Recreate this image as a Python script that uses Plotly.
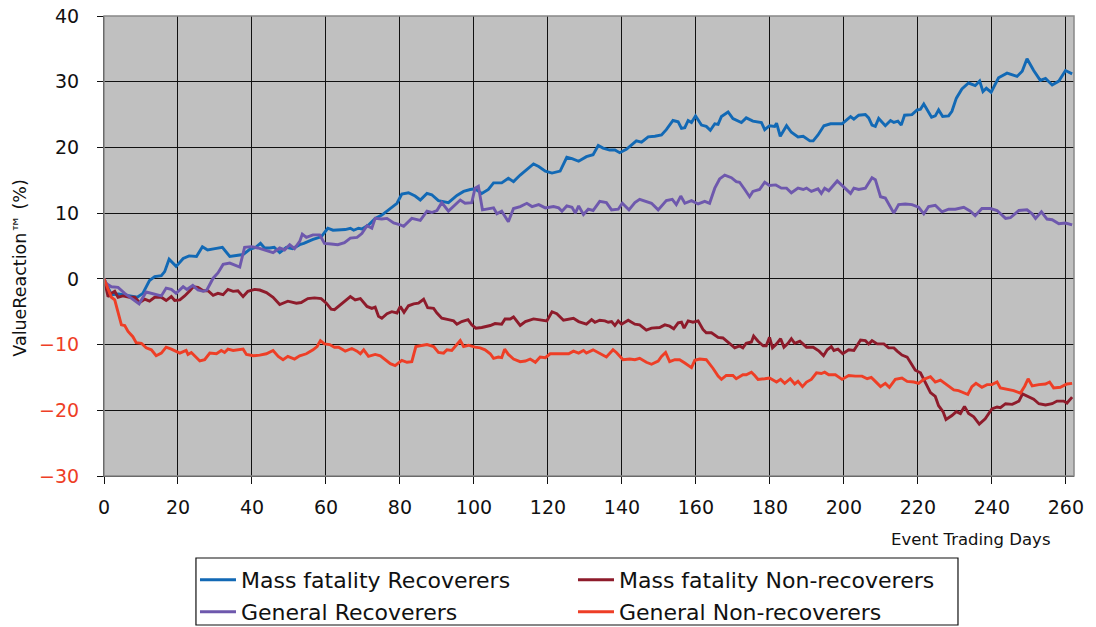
import plotly.graph_objects as go

# ---- data (event trading day, ValueReaction %) ----
mf_rec_days = [0, 2, 4, 7, 9, 10.5, 12.3, 13.7, 15.5, 16.4, 17.6, 19.5, 21.4, 23, 25, 26.6, 28, 30, 32, 34, 35.8, 37.6, 39.4, 41, 42.3, 43.4, 44.8, 46, 47.5, 49.3, 51, 52.9, 54, 56.5, 58.7, 60.5, 61.9, 63.7, 65.2, 66.6, 67.5, 68.8, 69.7, 71.5, 73.3, 75.1, 76.9, 79.2, 80.5, 82.3, 84.1, 85.5, 87.3, 88.6, 90.4, 93.1, 95.4, 97.2, 99, 100.3, 102.1, 103.9, 105.3, 107.5, 109.3, 110.7, 112.5, 114.3, 116.1, 117.5, 119.3, 121.1, 123.3, 125.1, 126.5, 128.3, 130.4, 132.2, 133.6, 134.9, 136.7, 138.1, 139.4, 141.2, 142.6, 143.9, 145.3, 147.1, 148.9, 150.7, 152, 153.8, 155.2, 156.1, 157, 157.9, 158.8, 159.9, 161.5, 162.8, 163.9, 165.1, 166, 166.9, 168.7, 170, 172.3, 173.6, 175.4, 177.7, 178.6, 179.9, 181.3, 181.8, 182.8, 184.5, 185.8, 187.6, 189, 190.8, 191.7, 193, 194.6, 196.4, 199.5, 201.8, 202.7, 204, 205.8, 206.7, 207.6, 208.5, 209.4, 211.2, 212.6, 213.5, 214.6, 215.5, 216.4, 218.4, 219.8, 220.7, 221.6, 222.5, 223.7, 224.7, 225.6, 226.7, 228.3, 229.2, 230.4, 231.9, 233.7, 235.5, 236.7, 237.6, 238.5, 239.8, 240.9, 241.8, 244.1, 245.4, 246.8, 248.2, 249.5, 251.3, 253.1, 254.5, 256.3, 258.1, 259.9, 261.7]
mf_rec_vals = [0, -2.4, -2.3, -2.6, -2.8, -2.2, -0.25, 0.35, 0.5, 1.1, 3.0, 1.9, 3.1, 3.5, 3.4, 4.9, 4.4, 4.6, 4.8, 3.4, 3.5, 3.7, 4.5, 4.8, 5.4, 4.7, 4.7, 4.8, 4.0, 4.8, 4.6, 5.2, 5.4, 6.0, 6.4, 7.7, 7.4, 7.5, 7.5, 7.7, 7.4, 7.7, 7.6, 8.2, 9.2, 9.7, 10.5, 11.5, 12.9, 13.1, 12.6, 12.0, 13.0, 12.8, 11.9, 11.6, 12.7, 13.3, 13.6, 13.7, 13.0, 13.6, 14.6, 14.6, 15.3, 14.8, 15.8, 16.6, 17.5, 17.1, 16.4, 16.1, 16.4, 18.5, 18.3, 17.9, 18.6, 18.9, 20.3, 19.9, 19.6, 19.6, 19.2, 19.7, 20.3, 21.0, 20.8, 21.6, 21.7, 21.9, 22.7, 24.1, 23.9, 22.9, 23.0, 24.1, 23.8, 24.8, 23.4, 23.2, 22.6, 23.6, 23.5, 24.7, 25.4, 24.4, 23.8, 24.5, 24.0, 23.8, 22.7, 23.3, 23.2, 23.7, 21.7, 23.3, 22.3, 21.6, 21.7, 21.0, 21.0, 21.9, 23.3, 23.6, 23.6, 24.7, 24.3, 24.9, 25.0, 24.5, 23.4, 23.2, 24.4, 23.3, 24.1, 23.8, 24.0, 23.4, 24.9, 25.0, 25.7, 25.8, 26.6, 25.7, 24.6, 24.8, 25.7, 24.7, 24.8, 25.5, 27.5, 28.9, 29.8, 29.4, 30.1, 28.5, 29.0, 28.4, 29.5, 30.6, 31.3, 31.0, 30.8, 31.6, 33.5, 31.7, 30.2, 30.5, 29.5, 30.1, 31.7, 31.2]

mf_non_days = [0, 1.1, 2, 2.9, 3.8, 5.1, 6.9, 8.3, 9.6, 11, 12.3, 13.7, 15.5, 16.8, 18.2, 19.1, 20.5, 21.8, 23.2, 24.1, 25.4, 26.8, 28.1, 29.5, 30.8, 32.2, 33.5, 34.9, 36.2, 37.6, 38.9, 40.7, 42.1, 43.9, 45.7, 47.5, 49.7, 52, 53.3, 55.1, 56.9, 58.7, 60.1, 61.4, 62.3, 63.6, 64.8, 66.6, 67.9, 69.3, 71.1, 72.4, 73.3, 74.2, 75.1, 76.5, 77.8, 79.2, 80.1, 81.1, 82.3, 83.7, 85, 86.4, 87.5, 89.1, 90, 91.3, 93.1, 94.5, 95.4, 96.7, 98.4, 99.4, 100.5, 102.1, 104.4, 105.7, 107.5, 108.4, 109.8, 110.7, 112.5, 113.9, 116.1, 117.9, 119.7, 121.1, 122.4, 124.2, 125.6, 126.9, 128.3, 129.6, 130.4, 131.8, 132.7, 134, 135.4, 136.3, 137.2, 138.1, 139, 139.9, 141.7, 143.5, 144.8, 146.6, 148, 150.2, 151.6, 152.9, 154, 155.2, 156.1, 156.8, 157.9, 159.2, 160.6, 161.9, 162.8, 164.2, 166, 167.3, 168.7, 170.5, 171.8, 172.7, 173.6, 175, 175.6, 176.8, 178.2, 179, 179.9, 180.7, 181.8, 182.9, 183.8, 184.9, 185.8, 186.7, 188.1, 189.9, 191.7, 193.3, 194.5, 195.5, 196.6, 197.3, 198.4, 199.7, 201.3, 202.7, 204.5, 205.8, 206.7, 207.6, 209, 210.8, 212.1, 213.5, 214.4, 215.7, 217.1, 218.4, 219.3, 220.7, 222, 223.4, 224.7, 225.6, 226.8, 227.6, 229.2, 230.4, 231.5, 232.6, 233.7, 235.1, 236.6, 238.2, 240, 241.4, 242.3, 243.7, 245.5, 247.3, 248.3, 250, 251.3, 252.7, 254.5, 256.3, 257.6, 259.4, 260.3, 261.7]
mf_non_vals = [0, -2.7, -2.2, -1.9, -2.8, -2.6, -2.8, -2.8, -3.6, -3.1, -3.4, -2.8, -2.8, -3.3, -2.7, -3.3, -3.2, -2.6, -1.8, -1.2, -1.3, -1.8, -1.8, -2.5, -2.2, -2.4, -1.6, -1.9, -1.8, -2.7, -1.9, -1.6, -1.7, -2.1, -2.8, -3.9, -3.4, -3.7, -3.6, -3.0, -2.9, -3.0, -3.7, -4.6, -4.7, -4.1, -3.4, -2.7, -3.2, -3.0, -4.2, -4.5, -4.3, -5.7, -6.0, -5.3, -5.0, -5.2, -4.2, -5.1, -4.1, -3.8, -3.7, -3.1, -4.4, -4.5, -5.2, -6.0, -6.2, -6.4, -6.9, -6.5, -6.2, -7.0, -7.5, -7.4, -7.1, -6.8, -6.9, -6.1, -6.1, -5.8, -7.1, -6.5, -6.1, -6.2, -6.4, -5.0, -5.3, -6.3, -6.2, -6.0, -6.5, -6.8, -6.9, -6.2, -6.6, -6.3, -6.4, -6.6, -6.5, -7.1, -6.4, -6.9, -6.3, -6.9, -7.0, -7.8, -7.5, -7.4, -7.0, -7.2, -7.6, -6.7, -6.6, -7.5, -6.4, -6.6, -6.4, -7.7, -8.2, -8.2, -8.9, -9.0, -9.7, -10.5, -10.2, -10.5, -9.8, -9.6, -8.7, -9.5, -10.2, -10.2, -8.9, -10.5, -9.9, -9.1, -10.4, -9.8, -9.1, -9.8, -9.5, -10.4, -10.4, -11.0, -11.7, -10.8, -10.3, -10.9, -10.7, -11.4, -10.8, -10.9, -9.3, -9.4, -9.9, -9.4, -9.9, -9.9, -10.5, -10.5, -11.0, -11.6, -11.9, -13.2, -13.9, -14.3, -15.8, -17.3, -17.9, -19.3, -20.2, -21.4, -20.8, -20.2, -20.5, -19.4, -20.5, -21.0, -22.1, -21.3, -19.8, -19.5, -19.6, -19.0, -19.1, -18.6, -17.5, -18.0, -18.3, -19.0, -19.2, -19.0, -18.6, -18.6, -18.9, -18.0]

gen_rec_days = [0, 0.6, 2, 3.8, 5.6, 7.8, 9.5, 11.4, 13.7, 15.5, 16.8, 18.2, 19.5, 21.4, 22.4, 24, 25.4, 26.8, 27.8, 29.5, 30.8, 32.2, 34, 35.3, 36.7, 38, 39.8, 41.6, 43.9, 45.7, 47.5, 48.8, 50.2, 51.5, 52.9, 53.6, 54.7, 56.5, 58.3, 59.6, 61.4, 63.2, 65, 66.6, 68.4, 69.7, 71.1, 72.4, 73.3, 75.1, 76.5, 78.3, 80.1, 81, 83.2, 85.5, 87.3, 88.6, 90, 91.3, 93.1, 94.9, 96.3, 97.6, 99.4, 100.3, 101.2, 102.3, 103.9, 105.3, 106.2, 107.5, 109.3, 110.7, 112.5, 114.3, 115.7, 117.5, 119.3, 121.5, 122.9, 123.8, 125.1, 126.5, 127.4, 128.3, 129.6, 130.9, 132.2, 134, 135.8, 137.2, 139, 140.1, 141.9, 143.5, 144.8, 147.1, 148, 149.8, 152, 153.6, 154.7, 155.9, 157, 158.8, 160.6, 162.4, 163.7, 165.1, 166.4, 167.8, 169.6, 170.9, 171.8, 173.2, 174.5, 175.4, 177.2, 178.6, 179.9, 181.6, 183.1, 184.5, 185.8, 187.6, 189, 189.9, 191.2, 193, 193.9, 194.8, 195.9, 198.2, 200, 201.8, 202.7, 204, 205.8, 207.6, 208.5, 209.9, 211.2, 213.5, 214.8, 216.6, 218.4, 220.2, 221.6, 222.9, 224.7, 226.5, 228.3, 230.1, 232.4, 234.2, 235.5, 237.3, 239.6, 241.4, 243.7, 245, 247.3, 249.5, 250.9, 251.8, 253.4, 254.9, 256.3, 258.1, 259.9, 261.7]
gen_rec_vals = [0, -0.7, -1.2, -1.3, -2.2, -3.1, -3.8, -2.0, -2.3, -2.6, -1.4, -1.6, -2.2, -1.2, -1.6, -1.0, -1.7, -1.9, -1.7, 0.1, 0.9, 2.2, 2.4, 2.1, 1.8, 4.8, 4.9, 4.7, 4.3, 4.0, 4.7, 4.4, 5.2, 4.6, 5.7, 6.8, 6.3, 6.7, 6.7, 5.4, 5.3, 5.2, 5.5, 6.2, 6.3, 6.9, 8.1, 7.7, 9.2, 9.1, 9.2, 8.5, 8.2, 8.0, 9.2, 8.9, 10.3, 10.1, 10.4, 11.6, 10.3, 11.3, 12.0, 11.5, 11.6, 13.8, 14.1, 10.5, 10.6, 10.8, 9.9, 10.3, 8.7, 10.7, 11.0, 11.5, 11.0, 11.3, 10.8, 11.0, 10.8, 10.3, 11.1, 10.9, 10.0, 11.1, 9.8, 10.6, 10.4, 11.8, 11.6, 10.5, 10.6, 11.5, 10.5, 11.6, 12.1, 11.6, 11.5, 10.5, 11.9, 12.1, 11.3, 12.6, 11.5, 11.9, 11.4, 11.8, 11.5, 13.8, 15.2, 15.8, 15.4, 14.8, 14.7, 13.6, 12.5, 13.3, 13.6, 14.7, 14.2, 14.3, 13.8, 13.8, 13.1, 13.8, 13.6, 13.8, 13.3, 13.7, 13.0, 13.8, 13.4, 14.9, 13.9, 13.0, 13.8, 13.6, 13.8, 15.4, 15.1, 12.5, 12.3, 10.0, 11.3, 11.4, 11.3, 10.9, 9.9, 11.0, 11.2, 10.2, 10.6, 10.6, 10.9, 10.3, 9.6, 10.7, 10.7, 10.4, 9.2, 9.3, 10.4, 10.5, 9.9, 9.2, 10.2, 9.1, 9.0, 8.4, 8.5, 8.2]

gen_non_days = [0, 1.1, 2, 2.9, 3.8, 4.7, 5.6, 6.5, 7.8, 8.7, 10.1, 11.4, 12.8, 14.1, 15.5, 16.8, 18.2, 20.5, 22.2, 22.7, 23.6, 24.9, 25.9, 27.2, 28.6, 30.4, 31.7, 32.6, 33.5, 34.9, 36.7, 37.6, 38.5, 40.4, 42.1, 43.9, 45.7, 47.1, 48.4, 49.7, 51.5, 52.9, 54.7, 56.5, 57.6, 58.5, 59.6, 61, 62.3, 63.4, 64.6, 65.2, 67, 68.4, 69.3, 70.2, 71.5, 73.3, 74.7, 76, 77.4, 78.7, 80.5, 81.9, 83.2, 84.3, 85.9, 87.3, 89.1, 90.4, 91.8, 92.7, 94, 95.1, 96.3, 97.2, 98.5, 100.3, 101.7, 103, 104.4, 105.3, 106.6, 107.5, 108.3, 109.3, 110.7, 112.5, 113.9, 115.2, 116.6, 117.9, 119.3, 120.6, 122.4, 123.8, 125.6, 126.9, 128.3, 129.6, 130.4, 132.2, 134, 135.8, 137.6, 138.5, 140.3, 142.1, 143.5, 144.8, 146.6, 148, 149.8, 150.7, 151.8, 152.9, 154.3, 155.6, 157, 158.8, 159.7, 161, 162.8, 164.6, 166, 166.9, 168.2, 170, 170.9, 172.7, 173.6, 175, 175.9, 176.8, 178.6, 179.9, 181.8, 182.9, 184, 185.5, 186.7, 187.6, 188.8, 189.9, 191.2, 192.6, 193.9, 194.8, 195.9, 197.7, 199.5, 201.3, 203.1, 204.9, 206.3, 207.4, 208.5, 209.9, 211.2, 212.3, 213.9, 215.7, 217.1, 218.9, 220.2, 221.6, 223.4, 224.7, 226.1, 227.9, 229.7, 231, 232.4, 233.5, 234.6, 235.7, 237.3, 238.7, 240, 241.4, 242.3, 244.1, 245.9, 247.7, 248.9, 249.8, 250.9, 252.7, 254.5, 255.6, 256.7, 258.5, 260.3, 261.7]
gen_non_vals = [0, -1.4, -2.8, -3.2, -5.0, -7.0, -7.1, -8.0, -8.8, -9.7, -9.8, -10.5, -10.8, -11.7, -11.3, -10.4, -10.7, -11.3, -10.9, -11.5, -11.2, -11.9, -12.5, -12.3, -11.3, -11.4, -10.9, -11.2, -10.7, -10.9, -10.8, -10.7, -11.5, -11.7, -11.6, -11.4, -10.9, -11.8, -12.3, -11.8, -12.2, -11.7, -11.4, -10.8, -10.3, -9.4, -9.9, -10.0, -10.4, -10.4, -10.8, -11.0, -10.6, -11.0, -11.4, -10.8, -11.8, -11.5, -11.7, -12.3, -12.9, -13.2, -12.4, -12.7, -12.6, -10.3, -10.1, -10.0, -10.3, -11.2, -11.3, -10.8, -10.9, -10.2, -9.4, -10.3, -10.1, -10.4, -10.5, -10.8, -11.4, -12.1, -11.9, -12.0, -10.7, -11.5, -12.2, -12.6, -12.5, -12.2, -12.7, -11.9, -12.0, -11.4, -11.4, -11.3, -11.4, -11.0, -11.3, -10.9, -11.3, -10.8, -11.3, -11.9, -10.8, -11.2, -12.3, -12.2, -12.3, -12.1, -12.7, -13.0, -12.5, -11.8, -11.2, -12.6, -12.3, -12.3, -12.8, -13.5, -12.4, -12.2, -12.3, -13.6, -14.8, -15.3, -14.7, -14.7, -15.2, -14.6, -14.6, -14.2, -14.7, -15.3, -15.2, -15.1, -15.7, -15.3, -15.9, -15.2, -16.0, -15.6, -16.4, -15.7, -15.3, -14.3, -14.4, -14.2, -14.6, -14.6, -15.3, -14.7, -14.8, -14.8, -15.2, -15.0, -15.6, -16.4, -15.9, -16.5, -15.3, -15.1, -15.6, -15.7, -15.9, -15.3, -14.9, -15.7, -15.4, -16.1, -16.9, -17.0, -17.4, -17.6, -16.4, -15.9, -16.5, -16.1, -16.1, -15.7, -16.6, -16.8, -17.0, -17.4, -16.3, -15.2, -16.3, -16.1, -16.0, -15.7, -16.6, -16.5, -16.0, -15.9]

series_names = ["Mass fatality Recoverers", "Mass fatality Non-recoverers",
                "General Recoverers", "General Non-recoverers"]
series_colors = ["#1269b5", "#8e1b2b", "#6e58ad", "#ee3e26"]
series_legend = ["legend", "legend", "legend2", "legend2"]

x_ticks = [0, 20, 40, 60, 80, 100, 120, 140, 160, 180, 200, 220, 240, 260]
y_ticks = [40, 30, 20, 10, 0, -10, -20, -30]

FONT = "DejaVu Sans"
NEG = "#ee3e26"
INK = "#111"

fig = go.Figure()
for name, color, lg, xs, ys in zip(
        series_names, series_colors, series_legend,
        [mf_rec_days, mf_non_days, gen_rec_days, gen_non_days],
        [mf_rec_vals, mf_non_vals, gen_rec_vals, gen_non_vals]):
    fig.add_trace(go.Scatter(x=xs, y=ys, mode="lines", name=name, legend=lg,
                             line=dict(color=color, width=2.9)))

y_text = [f"<span style='color:{NEG}'>\u2212{abs(v)}</span>" if v < 0 else str(v)
          for v in y_ticks]

leg_common = dict(orientation="h", xanchor="left", yanchor="middle",
                  entrywidth=327, entrywidthmode="pixels", itemwidth=36,
                  bgcolor="rgba(0,0,0,0)", borderwidth=0,
                  font=dict(family=FONT, size=22, color=INK))

fig.update_layout(
    width=1096, height=627,
    margin=dict(l=104, r=22, t=16, b=151, autoexpand=False),
    paper_bgcolor="white",
    plot_bgcolor="#c0c0c0",
    font=dict(family=FONT, size=19, color=INK),
    showlegend=True,
    legend=dict(x=0.0938, y=-0.2261, **leg_common),
    legend2=dict(x=0.0938, y=-0.2957, **leg_common),
    xaxis=dict(range=[0, 262.2], tickvals=x_ticks, ticks="outside", ticklen=7,
               tickcolor=INK, showgrid=True, gridcolor=INK, gridwidth=1,
               showline=True, linecolor=INK, linewidth=1, zeroline=False,
               automargin=False,
               tickfont=dict(family=FONT, size=19, color=INK),
               ticklabelstandoff=7),
    yaxis=dict(range=[-30, 40], tickvals=y_ticks, ticktext=y_text,
               ticks="outside", ticklen=6, tickcolor=INK,
               showgrid=True, gridcolor=INK, gridwidth=1,
               showline=True, linecolor=INK, linewidth=1, zeroline=False,
               automargin=False,
               tickfont=dict(family=FONT, size=19, color=INK),
               ticklabelstandoff=14),
    annotations=[
        dict(text="Event Trading Days", xref="paper", yref="paper",
             x=0.977, y=-0.139, xanchor="right", yanchor="middle",
             showarrow=False, font=dict(family=FONT, size=16.5, color=INK)),
        dict(text="ValueReaction\u2122 (%)", xref="paper", yref="paper",
             x=-0.087, y=0.452, xanchor="center", yanchor="middle", textangle=-90,
             showarrow=False, font=dict(family=FONT, size=17.5, color=INK)),
    ],
    shapes=[
        dict(type="rect", xref="paper", yref="paper", x0=0, x1=1, y0=0, y1=1,
             line=dict(color="#888", width=1.5), layer="above"),
        dict(type="rect", xref="paper", yref="paper", x0=0.0948, x1=0.8804,
             y0=-0.3239, y1=-0.1783, line=dict(color=INK, width=1.2),
             fillcolor="rgba(0,0,0,0)"),
    ],
)

fig.write_html("out.html",
               config={"displayModeBar": False},
               post_script="document.body.style.margin='0px';"
                           "document.body.style.overflow='hidden';")
